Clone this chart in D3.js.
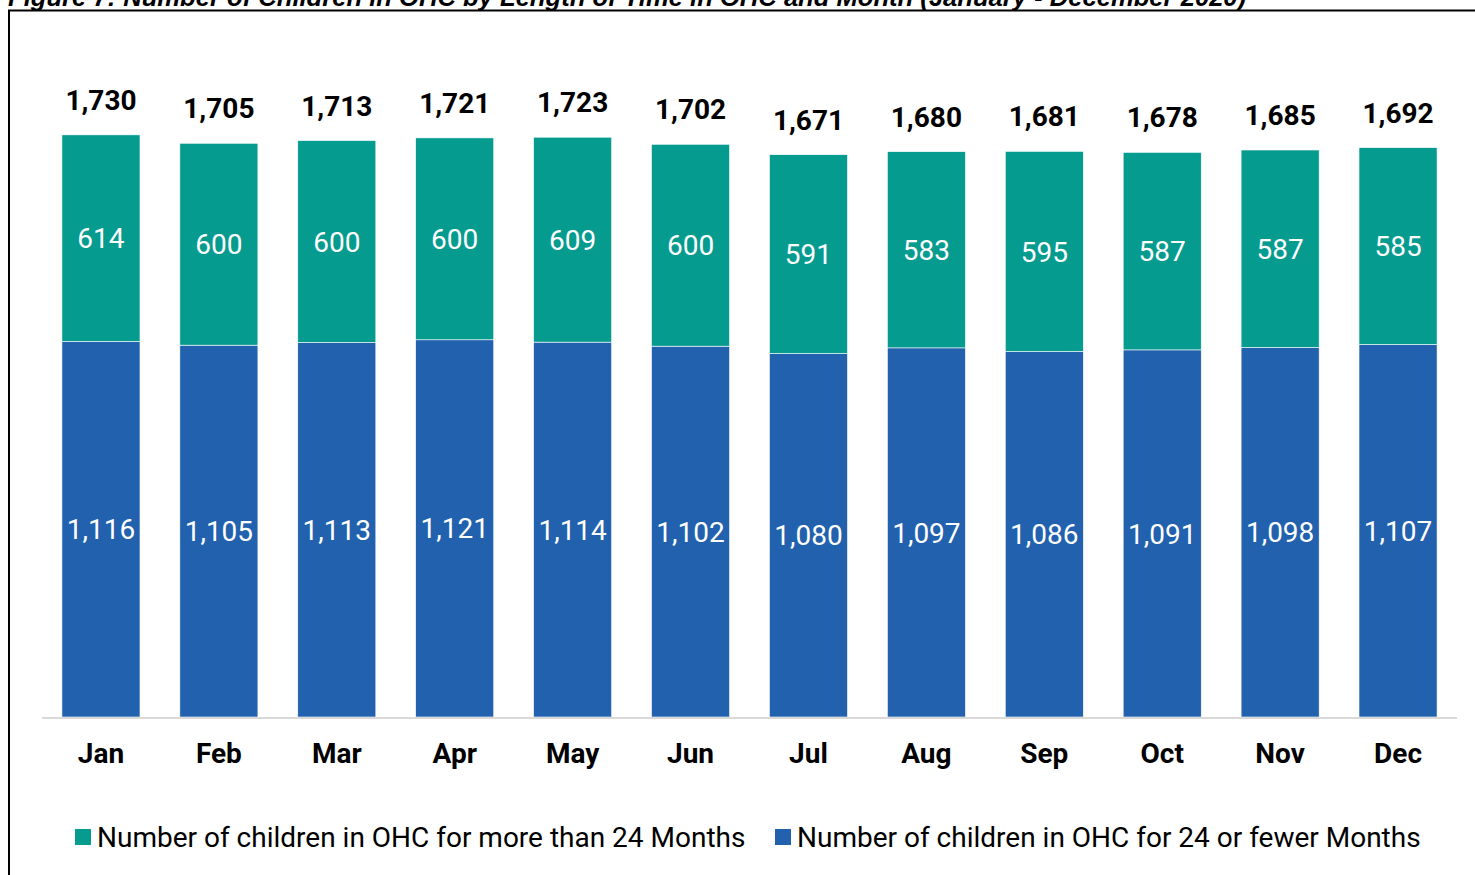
<!DOCTYPE html>
<html>
<head>
<meta charset="utf-8">
<script src="https://cdn.jsdelivr.net/npm/d3@7"></script>
<style>
  body { margin: 0; background: #fff; }
  svg { display: block; }
</style>
</head>
<body>
<svg id="chart" width="1475" height="875"></svg>
<script>
const months = ["Jan", "Feb", "Mar", "Apr", "May", "Jun", "Jul", "Aug", "Sep", "Oct", "Nov", "Dec"];
const over24 = [614, 600, 600, 600, 609, 600, 591, 583, 595, 587, 587, 585];
const upTo24 = [1116, 1105, 1113, 1121, 1114, 1102, 1080, 1097, 1086, 1091, 1098, 1107];
const totals = [1730, 1705, 1713, 1721, 1723, 1702, 1671, 1680, 1681, 1678, 1685, 1692];
const seriesNames = [
  "Number of children in OHC for more than 24 Months",
  "Number of children in OHC for 24 or fewer Months"
];
const title = "Figure 7: Number of Children in OHC by Length of Time in OHC and Month (January - December 2020)";

const TEAL = "#069b8f";
const BLUE = "#2161ae";
const fmt = d3.format(",");

const svg = d3.select("#chart");

// title, cut off at the top edge like the source
svg.append("text")
  .attr("x", 8).attr("y", 6)
  .attr("font-family", "Liberation Sans, Arial, sans-serif")
  .attr("font-weight", "bold").attr("font-style", "italic")
  .attr("font-size", 25.6)
  .text(title);

// frame
svg.append("rect")
  .attr("x", 9).attr("y", 10.5)
  .attr("width", 1500).attr("height", 900)
  .attr("fill", "none").attr("stroke", "#000").attr("stroke-width", 2);

const x = d3.scaleBand()
  .domain(months)
  .range([42, 1457])
  .paddingInner(0.338)
  .paddingOuter(0.169);

const y = d3.scaleLinear().domain([0, 2000]).range([717, 44]);

const rows = months.map((m, i) => ({ m, low: upTo24[i], high: over24[i], total: totals[i] }));

const g = svg.append("g").attr("font-family", "Roboto, sans-serif");

// blue (bottom) segments
g.selectAll("rect.low").data(rows).join("rect")
  .attr("class", "low")
  .attr("x", d => x(d.m)).attr("width", x.bandwidth())
  .attr("y", d => y(d.low)).attr("height", d => y(0) - y(d.low))
  .attr("fill", BLUE).attr("stroke", "#fff").attr("stroke-width", 0.6);

// teal (top) segments
g.selectAll("rect.high").data(rows).join("rect")
  .attr("class", "high")
  .attr("x", d => x(d.m)).attr("width", x.bandwidth())
  .attr("y", d => y(d.low + d.high)).attr("height", d => y(d.low) - y(d.low + d.high))
  .attr("fill", TEAL).attr("stroke", "#fff").attr("stroke-width", 0.6);

// axis line
svg.append("line")
  .attr("x1", 42).attr("x2", 1457)
  .attr("y1", 718).attr("y2", 718)
  .attr("stroke", "#d9d9d9").attr("stroke-width", 2);

// segment labels
g.selectAll("text.low").data(rows).join("text")
  .attr("x", d => x(d.m) + x.bandwidth() / 2)
  .attr("y", d => (y(0) + y(d.low)) / 2)
  .attr("dy", "0.36em")
  .attr("text-anchor", "middle")
  .attr("fill", "#fff").attr("font-size", 28)
  .text(d => fmt(d.low));

g.selectAll("text.high").data(rows).join("text")
  .attr("x", d => x(d.m) + x.bandwidth() / 2)
  .attr("y", d => (y(d.low) + y(d.low + d.high)) / 2)
  .attr("dy", "0.36em")
  .attr("text-anchor", "middle")
  .attr("fill", "#fff").attr("font-size", 28)
  .text(d => fmt(d.high));

// totals
g.selectAll("text.total").data(rows).join("text")
  .attr("x", d => x(d.m) + x.bandwidth() / 2)
  .attr("y", d => y(d.total) - 25)
  .attr("text-anchor", "middle")
  .attr("fill", "#000").attr("font-size", 28).attr("font-weight", "bold")
  .text(d => fmt(d.total));

// month labels
const xAxis = svg.append("g")
  .attr("transform", "translate(0,718)")
  .call(d3.axisBottom(x).tickSize(0).tickPadding(0));
xAxis.select(".domain").remove();
xAxis.selectAll("text")
  .attr("y", 45).attr("dy", null)
  .attr("font-family", "Roboto, sans-serif")
  .attr("font-size", 28).attr("font-weight", "bold").attr("fill", "#000");

// legend
const legend = svg.append("g").attr("font-family", "Roboto, sans-serif");
const legendItems = [
  { name: seriesNames[0], color: TEAL, x: 75 },
  { name: seriesNames[1], color: BLUE, x: 775 }
];
legendItems.forEach(it => {
  legend.append("rect")
    .attr("x", it.x).attr("y", 829).attr("width", 16).attr("height", 16)
    .attr("fill", it.color);
  legend.append("text")
    .attr("x", it.x + 22).attr("y", 847)
    .attr("font-size", 28).attr("fill", "#000")
    .text(it.name);
});
</script>
</body>
</html>
